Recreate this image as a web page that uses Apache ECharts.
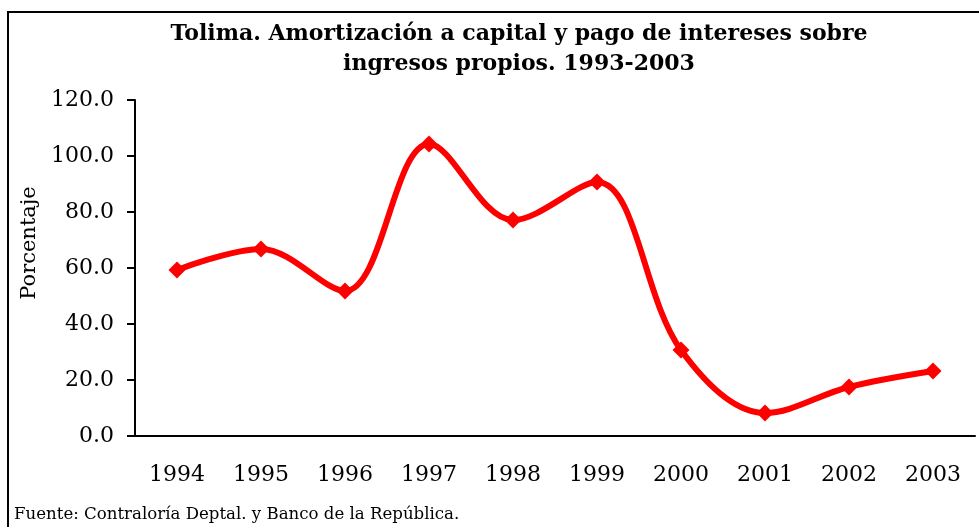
<!DOCTYPE html>
<html>
<head>
<meta charset="utf-8">
<script src="https://cdn.jsdelivr.net/npm/echarts@6/dist/echarts.min.js"></script>
<style>
  html, body { margin: 0; padding: 0; background: #fff; }
  #main { width: 979px; height: 527px; }
</style>
</head>
<body>
<div id="main"></div>
<script>
// datos
const years = ["1994", "1995", "1996", "1997", "1998", "1999", "2000", "2001", "2002", "2003"];
const porcentaje = [59.3, 66.8, 51.8, 104.3, 77.1, 90.7, 30.7, 8.2, 17.5, 23.2];
const yTicks = [0, 20, 40, 60, 80, 100, 120];

let myChart = echarts.init(document.getElementById("main"));
const serif = "DejaVu Serif";

let option = {
  animation: false,
  backgroundColor: "#fff",
  title: {
    text: "Tolima. Amortización a capital y pago de intereses sobre\ningresos propios. 1993-2003",
    left: 514,
    textAlign: "center",
    top: 14,
    textStyle: {
      fontFamily: serif,
      fontWeight: "bold",
      fontSize: 22,
      lineHeight: 30,
      color: "#000"
    }
  },
  graphic: [
    {
      type: "rect",
      shape: { x: 8, y: 12, width: 1000, height: 540 },
      style: { fill: "none", stroke: "#000", lineWidth: 2 },
      z: -1
    },
    {
      type: "text",
      left: 14,
      top: 506,
      style: {
        text: "Fuente: Contraloría Deptal. y Banco de la República.",
        font: "16.6px " + serif,
        fill: "#000"
      }
    }
  ],
  grid: {
    left: 135,
    right: 4,
    top: 100,
    bottom: 91
  },
  xAxis: {
    type: "category",
    boundaryGap: true,
    data: years,
    axisLine: { lineStyle: { color: "#000", width: 2 } },
    axisTick: { inside: false, length: 8, lineStyle: { color: "#000", width: 2 } },
    axisLabel: {
      color: "#000",
      fontFamily: serif,
      fontSize: 22,
      margin: 28
    }
  },
  yAxis: {
    type: "value",
    min: yTicks[0],
    max: yTicks[yTicks.length - 1],
    interval: 20,
    name: "Porcentaje",
    nameLocation: "middle",
    nameGap: 94,
    nameTextStyle: {
      color: "#000",
      fontFamily: serif,
      fontSize: 21,
      padding: [0, 0, 0, 50]
    },
    axisLine: { show: true, lineStyle: { color: "#000", width: 2 } },
    axisTick: { show: true, length: 8, lineStyle: { color: "#000", width: 2 } },
    splitLine: { show: false },
    axisLabel: {
      color: "#000",
      fontFamily: serif,
      fontSize: 22,
      margin: 21,
      formatter: v => v.toFixed(1)
    }
  },
  series: [
    {
      name: "Porcentaje",
      type: "line",
      smooth: 0.35,
      data: porcentaje,
      symbol: "diamond",
      symbolSize: 17,
      lineStyle: { color: "#ff0000", width: 6 },
      itemStyle: { color: "#ff0000" }
    }
  ]
};

myChart.setOption(option);
</script>
</body>
</html>
